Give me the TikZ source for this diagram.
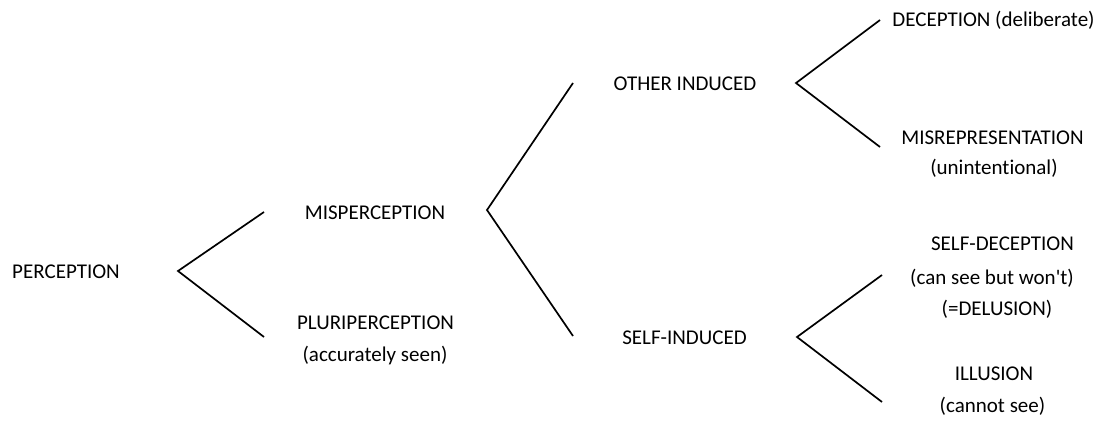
\documentclass[tikz,border=0pt]{standalone}
\usepackage{fontspec}
\setmainfont{Carlito}[Ligatures={TeXOff,NoCommon}]
\begin{document}
\begin{tikzpicture}[x=1pt,y=-1pt,
  lbl/.style={anchor=base, inner sep=0pt, font=\fontsize{21}{25}\selectfont},
  branch/.style={line width=1.7pt, line join=miter}]
\useasboundingbox (0,0) rectangle (1103,428);
% labels (y = baseline)
\node[lbl] (perception) at (66,278) {PERCEPTION};
\node[lbl] (misperception) at (375,219) {MISPERCEPTION};
\node[lbl] (pluri) at (375.5,329) {PLURIPERCEPTION};
\node[lbl] (pluri2) at (375,361) {(accurately seen)};
\node[lbl] (other) at (685,90) {OTHER INDUCED};
\node[lbl] (selfind) at (684.5,344) {SELF-INDUCED};
\node[lbl] (deception) at (993.5,27) {DECEPTION (deliberate)};
\node[lbl] (misrep) at (992.5,144) {MISREPRESENTATION};
\node[lbl] (misrep2) at (994,174) {(unintentional)};
\node[lbl] (selfdec) at (1002.5,250) {SELF-DECEPTION};
\node[lbl] (selfdec2) at (992,284) {(can see but won't)};
\node[lbl] (selfdec3) at (997,315) {(=DELUSION)};
\node[lbl] (illusion) at (994,380) {ILLUSION};
\node[lbl] (illusion2) at (992.5,412) {(cannot see)};
% branch points
\coordinate (v1) at (178,271);
\coordinate (v1u) at (264,212);
\coordinate (v1d) at (264,337);
\coordinate (v2) at (487,210);
\coordinate (v2u) at (573,83);
\coordinate (v2d) at (573,336);
\coordinate (v3) at (796,83);
\coordinate (v3u) at (880,20);
\coordinate (v3d) at (880,147);
\coordinate (v4) at (797,337);
\coordinate (v4u) at (882,275);
\coordinate (v4d) at (882,402);
\draw[branch] (v1u) -- (v1) -- (v1d);
\draw[branch] (v2u) -- (v2) -- (v2d);
\draw[branch] (v3u) -- (v3) -- (v3d);
\draw[branch] (v4u) -- (v4) -- (v4d);
\end{tikzpicture}
\end{document}
